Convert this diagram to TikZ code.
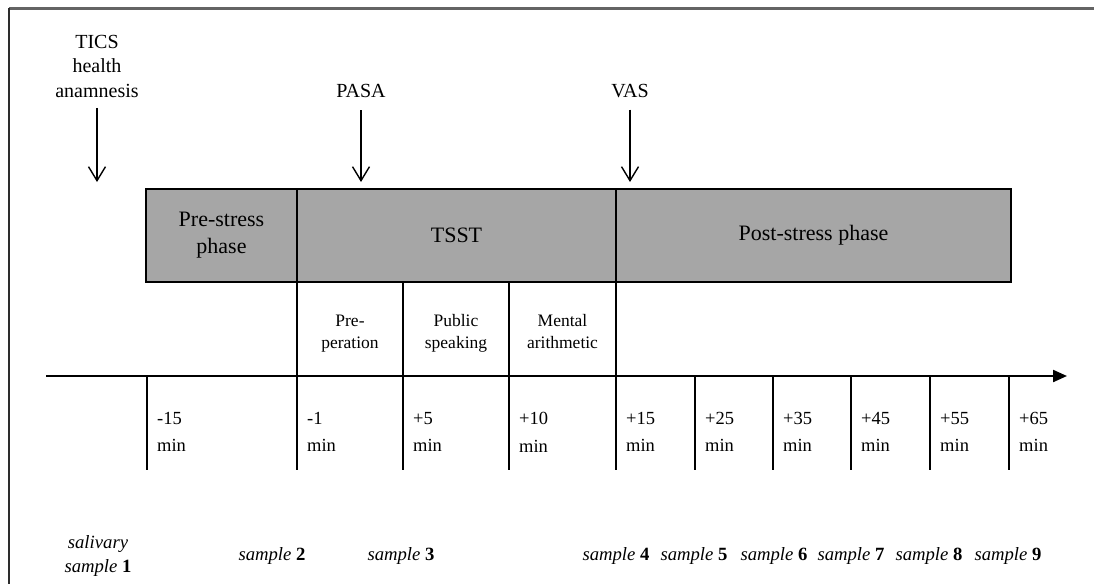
\documentclass[tikz,border=0pt]{standalone}
\usepackage{fontspec}
\setmainfont{Liberation Serif}
\usetikzlibrary{arrows.meta}
\definecolor{boxgray}{RGB}{166,166,166}
\definecolor{framegray}{RGB}{100,100,100}
\definecolor{frameleft}{RGB}{45,45,45}
\begin{document}
\begin{tikzpicture}[x=1pt,y=-1pt,
  phasebox/.style={draw=black, fill=boxgray, line width=2.2pt, rectangle, inner sep=0pt, align=center, font=\fontsize{22}{27}\selectfont},
  subbox/.style={draw=black, line width=2.2pt, rectangle, inner sep=0pt, minimum height=94pt},
  subtext/.style={inner sep=0pt, align=center, font=\fontsize{17.5}{22}\selectfont},
  toplabel/.style={inner sep=0pt, align=center, font=\fontsize{20}{24.5}\selectfont},
  timelabel/.style={inner sep=0pt, align=left, anchor=north west, font=\fontsize{18.5}{27.5}\selectfont},
  samplelabel/.style={inner sep=0pt, align=center, font=\fontsize{18.7}{23.5}\selectfont},
  downarrow/.style={line width=1.4pt, -{Straight Barb[length=14pt,width=17pt,line width=1.4pt]}},
  tickline/.style={line width=2.2pt},
  axisline/.style={line width=2.2pt, -{Triangle[length=14pt,width=12pt]}},
]
\useasboundingbox (0,0) rectangle (1094,584);
% frame (cropped: top and left edges only)
\draw[framegray, line width=3pt] (9,8) -- (1094,8);
\draw[frameleft, line width=1.8pt] (9,8) -- (9,584);

% phase boxes
\node[phasebox, minimum width=151pt, minimum height=93pt] (pre) at (221.5,235.5) {Pre-stress\\phase};
\node[phasebox, minimum width=319pt, minimum height=93pt] (tsst) at (456.5,235.5) {TSST};
\node[phasebox, minimum width=395pt, minimum height=93pt] (post) at (813.5,235.5) {Post-stress phase};

% TSST sub-phases
\node[subbox, minimum width=106pt] (prep) at (350,329) {};
\node[subbox, minimum width=106pt] (pub) at (456,329) {};
\node[subbox, minimum width=107pt] (ment) at (562.5,329) {};
\node[subtext] (prepT) at (350,333) {\strut Pre-\\peration\strut};
\node[subtext] (pubT) at (456,333) {\strut Public\\speaking\strut};
\node[subtext] (mentT) at (562.5,333) {\strut Mental\\arithmetic\strut};

% top labels and arrows
\node[toplabel, anchor=north] (tics) at (97,35) {TICS\\health\\anamnesis};
\node[toplabel, anchor=base] (pasa) at (361,97) {PASA};
\node[toplabel, anchor=base] (vas) at (630,97) {VAS};
\coordinate (ticsE) at (97,182);
\coordinate (pasaE) at (361,182);
\coordinate (vasE) at (630,182);
\draw[downarrow] ([yshift=-10pt]tics.south) -- (ticsE);
\draw[downarrow] ([yshift=-13pt]pasa.south) -- (pasaE);
\draw[downarrow] ([yshift=-12pt]vas.south) -- (vasE);

% ticks and time labels
\foreach \x/\n/\t in {147/a/-15, 297/b/-1, 403/c/+5, 509/d/+10, 616/e/+15, 695/f/+25, 773/g/+35, 851/h/+45, 930/i/+55, 1009/j/+65}{
  \coordinate (t\n) at (\x,376);
  \coordinate (b\n) at (\x,470);
  \draw[tickline] (t\n) -- (b\n);
  \node[timelabel] (lab\n) at (\x+10,412) {\t\\min};
}

% time axis
\coordinate (axs) at (46,376);
\coordinate (axe) at (1067,376);
\draw[axisline] (axs) -- (axe);

% salivary samples
\node[samplelabel] (s1) at (98,556) {\textit{salivary}\\\textit{sample} \textbf{1}};
\foreach \x/\k in {272/2, 401/3, 616/4, 694/5, 774/6, 851/7, 929/8, 1008/9}{
  \node[samplelabel, anchor=base] (s\k) at (\x,560) {\textit{sample} \textbf{\k}};
}
\end{tikzpicture}
\end{document}
